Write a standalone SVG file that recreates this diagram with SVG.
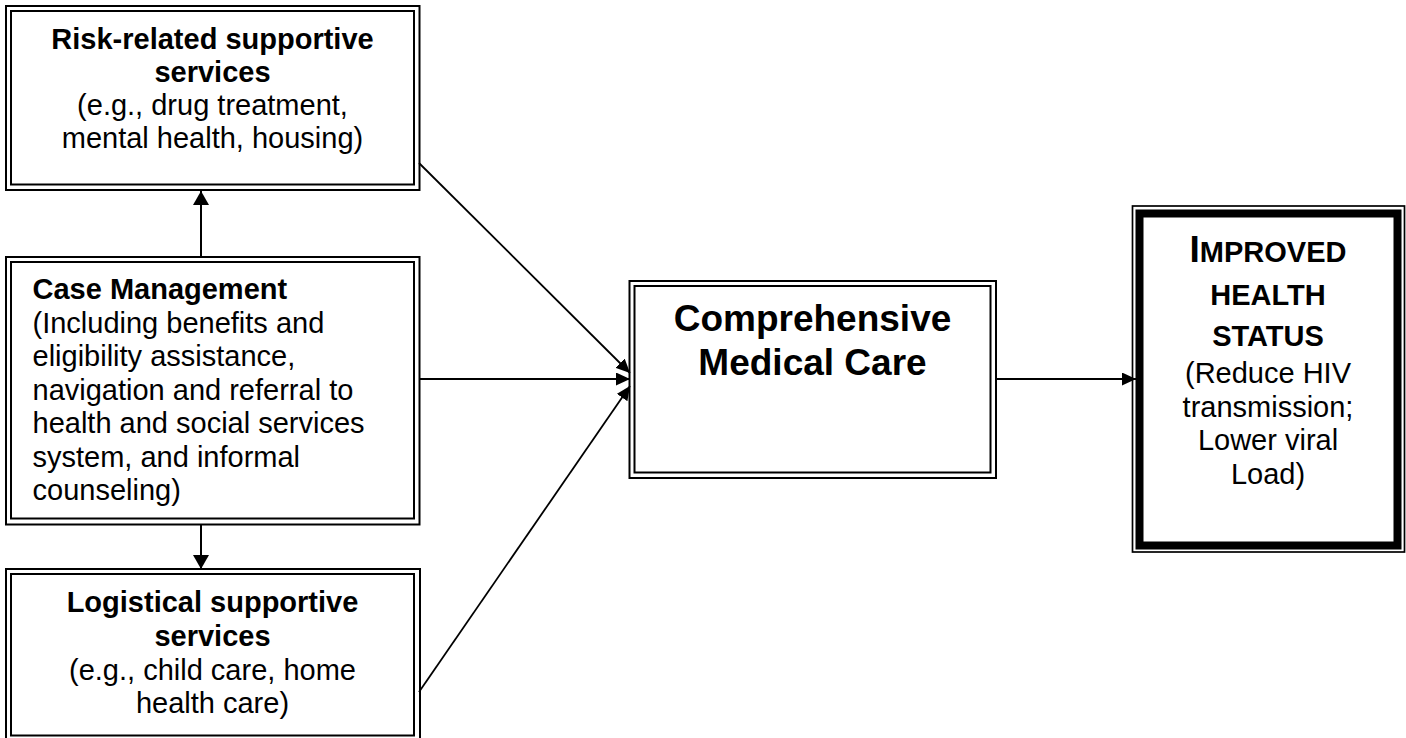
<svg xmlns="http://www.w3.org/2000/svg" width="1406" height="738" viewBox="0 0 1406 738">
<style>
.bx{fill:none;stroke:#000;stroke-width:2}
.t{font-family:"Liberation Sans",Arial,sans-serif;font-size:29px;fill:#000}
.b{font-weight:bold}
.c{text-anchor:middle}
.ln{stroke:#000;stroke-width:2;fill:none}
.dl{stroke:#000;stroke-width:1.8;fill:none}
</style>
<defs>
<marker id="ah" viewBox="0 0 14 16" refX="14" refY="8" markerWidth="14" markerHeight="16" orient="auto" markerUnits="userSpaceOnUse"><path d="M0,0 L14,8 L0,16 z" fill="#000"/></marker>
<marker id="ahs" viewBox="0 0 14 13" refX="14" refY="6.5" markerWidth="14" markerHeight="13" orient="auto" markerUnits="userSpaceOnUse"><path d="M0,0 L14,6.5 L0,13 z" fill="#000"/></marker>
</defs>
<rect width="1406" height="738" fill="#fff"/>
<g id="connectors">
<line class="ln" x1="201" y1="257" x2="201" y2="191" marker-end="url(#ah)"/>
<line class="ln" x1="201" y1="524.5" x2="201" y2="569" marker-end="url(#ah)"/>
<line class="dl" x1="419" y1="163" x2="630" y2="373" marker-end="url(#ahs)"/>
<line class="ln" x1="420" y1="379" x2="630" y2="379" marker-end="url(#ahs)"/>
<line class="dl" x1="419" y1="692" x2="630" y2="386" marker-end="url(#ahs)"/>
<line class="ln" x1="996" y1="379" x2="1136" y2="379" marker-end="url(#ahs)"/>
</g>
<g id="risk">
<rect class="bx" x="6" y="6" width="413.5" height="184"/>
<rect class="bx" x="11" y="11" width="403" height="173.5"/>
<text class="t c" x="212.5"><tspan class="b" x="212.5" y="49">Risk-related supportive</tspan><tspan class="b" x="212.5" y="82">services</tspan><tspan x="212.5" y="115">(e.g., drug treatment,</tspan><tspan x="212.5" y="148">mental health, housing)</tspan></text>
</g>
<g id="case">
<rect class="bx" x="6" y="257" width="413.5" height="267.5"/>
<rect class="bx" x="11" y="262" width="403" height="256.5"/>
<text class="t" x="32.5"><tspan class="b" x="32.5" y="299">Case Management</tspan><tspan x="32.5" y="332.5">(Including benefits and</tspan><tspan x="32.5" y="366">eligibility assistance,</tspan><tspan x="32.5" y="399.5">navigation and referral to</tspan><tspan x="32.5" y="433">health and social services</tspan><tspan x="32.5" y="466.5">system, and informal</tspan><tspan x="32.5" y="500">counseling)</tspan></text>
</g>
<g id="logistical">
<rect class="bx" x="6" y="569" width="414" height="171"/>
<rect class="bx" x="11" y="574" width="403" height="161.5"/>
<text class="t c" x="212.5"><tspan class="b" x="212.5" y="612">Logistical supportive</tspan><tspan class="b" x="212.5" y="646">services</tspan><tspan x="212.5" y="679.5">(e.g., child care, home</tspan><tspan x="212.5" y="713">health care)</tspan></text>
</g>
<g id="medical">
<rect class="bx" x="629.5" y="281" width="366.5" height="197"/>
<rect class="bx" x="634.5" y="286" width="356" height="186.5"/>
<text class="t b c" style="font-size:37px" x="812.5"><tspan x="812.5" y="331">Comprehensive</tspan><tspan x="812.5" y="375">Medical Care</tspan></text>
</g>
<g id="outcome">
<rect fill="none" stroke="#000" stroke-width="1.7" x="1132.5" y="206" width="272" height="346"/>
<rect fill="none" stroke="#000" stroke-width="8" x="1139.5" y="213.5" width="258" height="332"/>
<text class="t c" x="1268"><tspan class="b" x="1268" y="261.5"><tspan style="font-size:37px">I</tspan>MPROVED</tspan><tspan class="b" x="1268" y="305">HEALTH</tspan><tspan class="b" x="1268" y="346">STATUS</tspan><tspan x="1268" y="383">(Reduce HIV</tspan><tspan x="1268" y="416.5">transmission;</tspan><tspan x="1268" y="450">Lower viral</tspan><tspan x="1268" y="483.5">Load)</tspan></text>
</g>
</svg>
